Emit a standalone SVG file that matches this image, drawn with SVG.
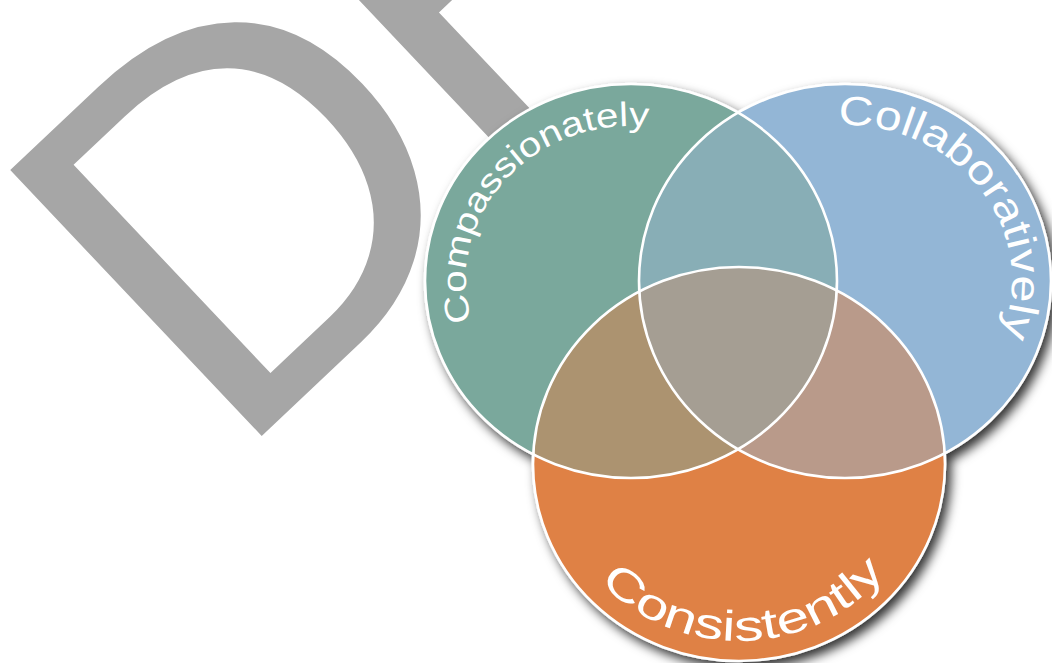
<svg xmlns="http://www.w3.org/2000/svg" width="1052" height="663" viewBox="0 0 1052 663">
  <style>
    .wm { font-family: "Liberation Sans", Arial, sans-serif; font-size: 532px; fill: #a6a6a6; }
    .g { fill: #7aa89c; }
    .b { fill: #93b6d6; }
    .o { fill: #df8145; }
    .gb { fill: #88aeb6; }
    .go { fill: #ac9370; }
    .bo { fill: #b99a8a; }
    .gbo { fill: #a59e93; }
    .outline { fill: none; stroke: #ffffff; stroke-width: 2.6; }
    .lbl { font-family: "Liberation Sans", Arial, sans-serif; fill: #ffffff; }
  </style>
  <defs>
    <filter id="shadow" x="-10%" y="-10%" width="125%" height="125%">
      <feDropShadow dx="5" dy="6" stdDeviation="5.5" flood-color="#000000" flood-opacity="0.8"/>
    </filter>
    <clipPath id="clipB"><ellipse cx="845" cy="281" rx="206" ry="197"/></clipPath>
    <clipPath id="clipO"><ellipse cx="739" cy="464" rx="206" ry="197"/></clipPath>
    <path id="arcG" d="M471.6,321.4 A165,155 0 0 1 673.4,131.2"/>
    <path id="arcB" d="M838,125.1 A167,156 0 0 1 996.3,347"/>
    <path id="arcO" d="M600,581.5 A186,177 0 0 0 900,552.5"/>
  </defs>
  <rect width="1052" height="663" fill="#ffffff"/>

  <g id="watermark">
    <text class="wm" x="0" y="0" transform="translate(230,466) rotate(-43.4)">D<tspan dx="-14" dy="-34">R</tspan></text>
  </g>

  <g id="venn" filter="url(#shadow)">
    <g id="node-compassionately">
      <ellipse class="g" cx="631" cy="281" rx="206" ry="197"/>
    </g>
    <g id="node-collaboratively">
      <ellipse class="b" cx="845" cy="281" rx="206" ry="197"/>
    </g>
    <g id="node-consistently">
      <ellipse class="o" cx="739" cy="464" rx="206" ry="197"/>
    </g>
    <g id="overlaps">
      <ellipse class="gb" cx="631" cy="281" rx="206" ry="197" clip-path="url(#clipB)"/>
      <ellipse class="go" cx="631" cy="281" rx="206" ry="197" clip-path="url(#clipO)"/>
      <ellipse class="bo" cx="845" cy="281" rx="206" ry="197" clip-path="url(#clipO)"/>
      <g clip-path="url(#clipB)">
        <ellipse class="gbo" cx="631" cy="281" rx="206" ry="197" clip-path="url(#clipO)"/>
      </g>
    </g>
    <g id="outlines">
      <ellipse class="outline" cx="631" cy="281" rx="206" ry="197"/>
      <ellipse class="outline" cx="845" cy="281" rx="206" ry="197"/>
      <ellipse class="outline" cx="739" cy="464" rx="206" ry="197"/>
    </g>
  </g>

  <g id="labels">
    <text class="lbl" font-size="34"><textPath href="#arcG" textLength="310" lengthAdjust="spacingAndGlyphs">Compassionately</textPath></text>
    <text class="lbl" font-size="41"><textPath href="#arcB" textLength="316" lengthAdjust="spacingAndGlyphs">Collaboratively</textPath></text>
    <text class="lbl" font-size="43"><textPath href="#arcO" textLength="322" lengthAdjust="spacingAndGlyphs">Consistently</textPath></text>
  </g>
</svg>
